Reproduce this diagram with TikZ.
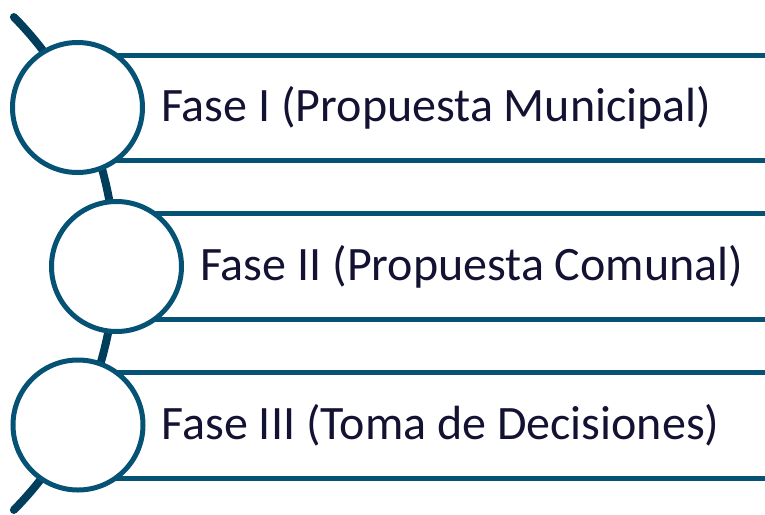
\documentclass[tikz,border=0pt]{standalone}
\usepackage{fontspec}
\setmainfont{Carlito}
\usetikzlibrary{positioning}
\definecolor{arcblue}{RGB}{0,62,92}
\definecolor{ringblue}{RGB}{5,82,117}
\definecolor{textnavy}{RGB}{20,18,50}
\begin{document}
\begin{tikzpicture}[x=1pt, y=-1pt,
	ring/.style={circle, draw=ringblue, line width=5pt, fill=white, minimum size=130pt, inner sep=0pt},
	barline/.style={draw=ringblue, line width=5pt},
	phase/.style={text=textnavy, font=\fontsize{48}{52}\selectfont, inner sep=0pt}]
	\useasboundingbox (0,0) rectangle (765,514);
	\coordinate (p1) at (77.5,107.5);
	\coordinate (p2) at (116.5,266.5);
	\coordinate (p3) at (78,425);
	\draw [arcblue, line width=8pt, line cap=round] ([shift={(-236,263.5)}]-44.6:351) arc[start angle=-44.6, end angle=44.6, radius=351];
	\draw [barline] (p1) ++(0,-52.5) -- +(700,0) (p1) ++(0,53) -- +(700,0);
	\draw [barline] (p2) ++(0,-53) -- +(700,0) (p2) ++(0,53) -- +(700,0);
	\draw [barline] (p3) ++(0,-52.5) -- +(700,0) (p3) ++(0,53) -- +(700,0);
	\node [ring] (c1) at (p1) {};
	\node [ring] (c2) at (p2) {};
	\node [ring] (c3) at (p3) {};
	\node [phase, right=16pt of c1] (t1) {Fase I (Propuesta Municipal)};
	\node [phase, right=16pt of c2] (t2) {Fase II (Propuesta Comunal)};
	\node [phase, right=16pt of c3] (t3) {Fase III (Toma de Decisiones)};
\end{tikzpicture}
\end{document}
